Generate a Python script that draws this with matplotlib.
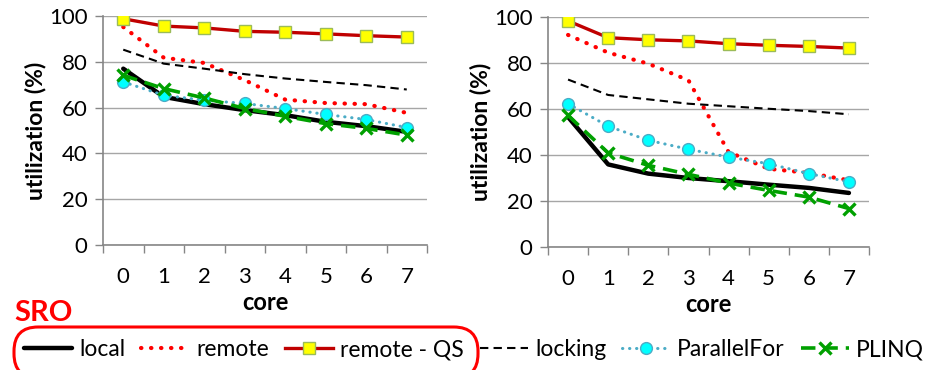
import matplotlib.pyplot as plt
from matplotlib.patches import FancyBboxPatch
import numpy as np

plt.rcParams['font.family'] = ['Lato', 'DejaVu Sans']

cores = [0, 1, 2, 3, 4, 5, 6, 7]
yticks = [0, 20, 40, 60, 80, 100]

# left chart
left_local = [77, 64.7, 61.5, 58.9, 56.7, 53.8, 51.9, 49.4]
left_remote = [95.2, 81.8, 79.5, 72, 63.5, 62, 61.5, 57.7]
left_remote_qs = [98.8, 95.6, 94.8, 93.3, 92.9, 92.2, 91.4, 90.8]
left_locking = [85.3, 79.2, 77, 74.6, 72.7, 71.2, 69.8, 67.9]
left_parallelfor = [71.2, 65.4, 63.2, 61.8, 59.6, 57, 54.8, 51.3]
left_plinq = [74.1, 68.3, 64.2, 59.6, 56.2, 53, 50.9, 48]

# right chart
right_local = [56.5, 35.9, 31.9, 30, 28.6, 27.1, 25.7, 23.5]
right_remote = [92.2, 84.5, 79.7, 72.5, 41.3, 34, 32.2, 29]
right_remote_qs = [98.3, 91, 90.1, 89.6, 88.4, 87.7, 87.2, 86.5]
right_locking = [72.8, 66.1, 64.2, 62.3, 61.2, 60.1, 59.1, 57.7]
right_parallelfor = [62.3, 52.5, 46.4, 42.5, 39.1, 36.2, 31.9, 28.3]
right_plinq = [57.2, 40.9, 35.5, 31.6, 27.8, 24.6, 21.7, 16.7]

labels = ['local', 'remote', 'remote - QS', 'locking', 'ParallelFor', 'PLINQ']

styles = [
    dict(color='black', lw=3.2, ls='-', solid_capstyle='round'),
    dict(color='#FF0000', lw=3, ls=(0, (0.1, 2.3)), dash_capstyle='round'),
    dict(color='#C00000', lw=2.4, ls='-', marker='s', ms=8, mfc='#FFFF00', mec='#9BBB59', mew=1),
    dict(color='black', lw=1.5, ls=(0, (4, 2.5))),
    dict(color='#4BACC6', lw=2.2, ls=(0, (0.1, 2.2)), dash_capstyle='round', marker='o', ms=8.5,
         mfc='#00FFFF', mec='#4BACC6', mew=1),
    dict(color='#00A000', lw=2.6, ls=(0, (4, 2.2)), marker='x', ms=9, mew=2.4, mec='#00A000'),
]

fig = plt.figure(figsize=(9.28, 3.7), dpi=100)
ax1 = fig.add_axes([103 / 928, 1 - 245 / 370, 324 / 928, 229 / 370])
ax2 = fig.add_axes([548 / 928, 1 - 247 / 370, 321 / 928, 230 / 370])

data = [
    (ax1, [left_local, left_remote, left_remote_qs, left_locking, left_parallelfor, left_plinq]),
    (ax2, [right_local, right_remote, right_remote_qs, right_locking, right_parallelfor, right_plinq]),
]

handles = []
for ax, series in data:
    handles = []
    for vals, st, lab in zip(series, styles, labels):
        h, = ax.plot(cores, vals, label=lab, **st)
        handles.append(h)
    ax.set_xlim(-0.5, 7.5)
    ax.set_ylim(0, 100)
    ax.set_yticks(yticks)
    ax.set_xticks(np.arange(-0.5, 8, 1))
    ax.set_xticklabels([])
    ax.set_xticks(cores, minor=True)
    ax.set_xticklabels([str(c) for c in cores], minor=True)
    ax.tick_params(axis='x', which='major', length=6, width=1, color='#868686', direction='out')
    ax.tick_params(axis='x', which='minor', length=0, pad=16, labelsize=16)
    ax.tick_params(axis='y', length=6, width=1, color='#868686', pad=5, labelsize=16)
    ax.grid(axis='y', color='#A6A6A6', lw=1)
    ax.set_axisbelow(True)
    for s in ['top', 'right']:
        ax.spines[s].set_visible(False)
    for s in ['left', 'bottom']:
        ax.spines[s].set_color('#868686')
        ax.spines[s].set_linewidth(1.2)
    ax.set_ylabel('utilization (%)', fontsize=16.5, fontweight='bold', labelpad=2)
    ax.set_xlabel('core', fontsize=17, fontweight='bold', labelpad=3)

fig.legend(handles=handles, loc='center', bbox_to_anchor=(474 / 928, 1 - 350 / 370), ncol=6,
           frameon=False, fontsize=16.5, handlelength=2.1, handletextpad=0.3, columnspacing=0.7,
           borderaxespad=0, borderpad=0)

fig.text(14 / 928, 1 - 313 / 370, 'SRO', color='#FF0000', fontsize=21, fontweight='bold', va='center')
box_bottom = 1 - 378 / 370
box_top = 1 - 327 / 370
box = FancyBboxPatch((14 / 928, box_bottom), 464 / 928, box_top - box_bottom,
                     boxstyle='round,pad=0,rounding_size=0.026', transform=fig.transFigure,
                     fill=False, ec='#FF0000', lw=2.2, mutation_aspect=928 / 370, clip_on=False)
fig.add_artist(box)

fig.savefig('out.png', dpi=100)
